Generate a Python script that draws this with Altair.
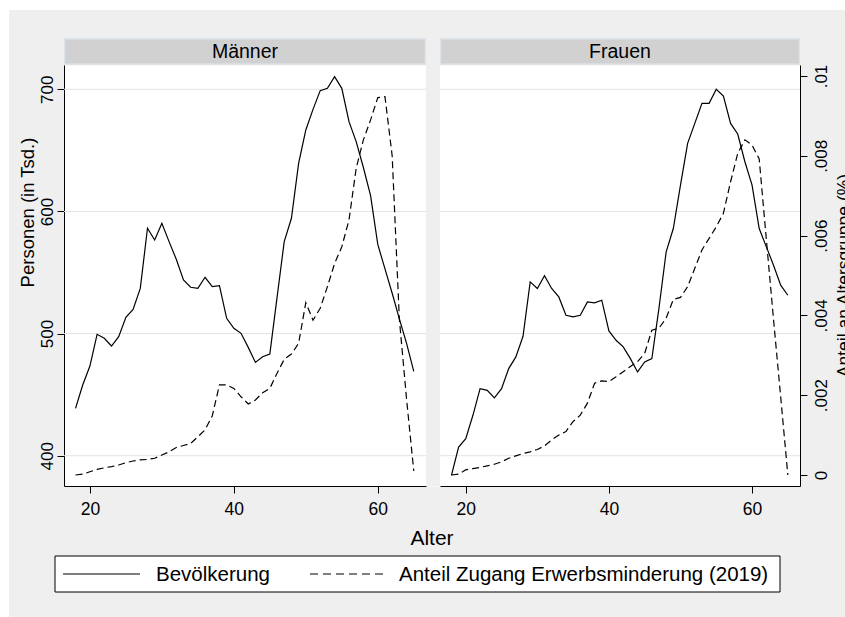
import altair as alt
import pandas as pd

# ---------------- data ----------------
ages = list(range(18, 66))

maenner_bev = [438.8, 457.9, 473.4, 499.4, 496.1, 489.8, 497.5, 513.3, 519.8, 537.0,
               586.2, 576.6, 590.3, 575.3, 560.8, 543.9, 537.9, 537.0, 546.1, 538.4,
               539.2, 512.5, 504.3, 500.2, 488.7, 476.4, 481.1, 483.3, 529.4, 575.3,
               594.4, 639.4, 666.7, 683.6, 698.9, 700.8, 710.4, 700.8, 673.5, 657.2,
               636.0, 613.0, 573.0, 553.0, 533.0, 512.0, 492.0, 469.0]

maenner_anteil = [0.0, 0.00002, 0.00008, 0.00014, 0.00018, 0.00021, 0.00025, 0.00031,
                  0.00035, 0.00038, 0.00039, 0.00042, 0.00050, 0.00058, 0.00069, 0.00074,
                  0.00079, 0.00096, 0.00113, 0.00148, 0.00226, 0.00226, 0.00217, 0.00196,
                  0.00178, 0.00188, 0.00206, 0.00217, 0.00255, 0.00290, 0.00303, 0.00330,
                  0.00432, 0.00388, 0.00418, 0.00472, 0.00530, 0.00572, 0.00639, 0.00769,
                  0.00840, 0.00890, 0.00946, 0.00948, 0.00800, 0.00390, 0.00190, 0.00010]

frauen_bev = [383.9, 407.1, 413.9, 433.1, 454.9, 453.5, 447.3, 454.9, 471.3, 480.9,
              497.8, 542.3, 536.9, 547.3, 536.9, 530.0, 515.0, 513.7, 515.0, 525.9,
              525.1, 527.3, 502.2, 494.5, 489.1, 479.5, 468.6, 476.8, 479.5, 521.0,
              566.9, 586.0, 621.6, 655.7, 672.1, 688.5, 688.5, 700.0, 694.5, 672.1,
              663.4, 640.7, 621.6, 586.0, 571.0, 556.0, 539.6, 531.4]

frauen_anteil = [0.0, 0.00002, 0.00013, 0.00016, 0.00019, 0.00023, 0.00027, 0.00033,
                 0.00042, 0.00048, 0.00054, 0.00058, 0.00064, 0.00073, 0.00088, 0.00100,
                 0.00109, 0.00134, 0.00150, 0.00180, 0.00230, 0.00236, 0.00234, 0.00246,
                 0.00259, 0.00272, 0.00284, 0.00305, 0.00363, 0.00368, 0.00393, 0.00440,
                 0.00445, 0.00472, 0.00518, 0.00564, 0.00593, 0.00622, 0.00656, 0.00735,
                 0.00806, 0.00840, 0.00827, 0.00792, 0.00590, 0.00390, 0.00196, 0.0]

panel_labels = ["Männer", "Frauen"]
legend_labels = ["Bevölkerung", "Anteil Zugang Erwerbsminderung (2019)"]
x_title = "Alter"
y_left_title = "Personen (in Tsd.)"
y_right_title = "Anteil an Altersgruppe (%)"
x_ticks = [20, 40, 60]
y_left_ticks = [400, 500, 600, 700]
y_right_ticks = [0, 0.002, 0.004, 0.006, 0.008, 0.01]

# ---------------- layout ----------------
W, H = 736, 421
PANEL_L = [0, 362]
PANEL_R = [376, 736]
X_DOMAIN = [16.4, 66.7]
YL_DOMAIN = [375.2, 719.9]
YR_DOMAIN = [-0.000276, 0.010276]
FONT = "Liberation Sans"
BG = "#efefef"
HEADER_FILL = "#d1d1d1"
HEADER_STROKE = "#dae1e8"
GRID = "#e4e4e4"
DASH = [7, 4]

dfM = pd.DataFrame({"Alter": ages, "bev": maenner_bev, "anteil": maenner_anteil})
dfF = pd.DataFrame({"Alter": ages, "bev": frauen_bev, "anteil": frauen_anteil})
grid_df = pd.DataFrame({"v": y_left_ticks})


def one(text=""):
    return pd.DataFrame({"t": [text]})


def xscale(panel):
    return alt.Scale(domain=X_DOMAIN, range=panel, nice=False, zero=False)


def yl():
    return alt.Scale(domain=YL_DOMAIN, nice=False, zero=False)


def yr():
    return alt.Scale(domain=YR_DOMAIN, nice=False, zero=False)


common = dict(domainColor="black", tickColor="black", labelColor="black",
              titleColor="black", labelFont=FONT, titleFont=FONT, grid=False,
              tickSize=7, domainWidth=1, tickWidth=1)

x_axis = alt.Axis(values=x_ticks, orient="bottom", labelFontSize=17.5,
                  labelPadding=7, labelAngle=0, **common)

y_axis_left = alt.Axis(values=y_left_ticks, orient="left", labelAngle=270,
                       labelAlign="center", labelBaseline="alphabetic",
                       labelPadding=5, labelFontSize=17, title=y_left_title,
                       titleAngle=270, titleAlign="center", titleBaseline="alphabetic",
                       titleX=-31, titleY=147, titleFontSize=18.5,
                       titleFontWeight="normal", **common)

y_axis_right = alt.Axis(values=y_right_ticks, orient="right", labelAngle=270,
                        labelAlign="center", labelBaseline="top",
                        labelPadding=6, labelFontSize=17,
                        labelExpr="datum.value == 0 ? '0' : replace(format(datum.value, '.3~f'), '0.', '.')",
                        title=y_right_title, titleAngle=270, titleAlign="center",
                        titleBaseline="alphabetic", titleX=49.5, titleY=210,
                        titleFontSize=17.5, titleFontWeight="normal", **common)

layers = []

# grey gap between panels
layers.append(alt.Chart(one()).mark_rect(fill=BG).encode(
    x=alt.value(PANEL_L[1]), x2=alt.value(PANEL_R[0]), y=alt.value(0), y2=alt.value(H)))

# white border strips (top / left) of the outer region
layers.append(alt.Chart(one()).mark_rect(fill="white").encode(
    x=alt.value(-64), x2=alt.value(W + 45), y=alt.value(-65), y2=alt.value(-55)))
layers.append(alt.Chart(one()).mark_rect(fill="white").encode(
    x=alt.value(-64), x2=alt.value(-55), y=alt.value(-65), y2=alt.value(H + 131)))

# gridlines per panel
for panel in (PANEL_L, PANEL_R):
    layers.append(alt.Chart(grid_df).mark_rule(color=GRID, strokeWidth=1).encode(
        y=alt.Y("v:Q", scale=yl(), axis=None),
        x=alt.value(panel[0]), x2=alt.value(panel[1])))

# headers
for panel, label in zip((PANEL_L, PANEL_R), panel_labels):
    layers.append(alt.Chart(one()).mark_rect(fill=HEADER_FILL, stroke=HEADER_STROKE,
                                             strokeWidth=1.5).encode(
        x=alt.value(panel[0] + 0.75), x2=alt.value(panel[1] - 0.75),
        y=alt.value(-26), y2=alt.value(-1)))
    layers.append(alt.Chart(one(label)).mark_text(font=FONT, fontSize=19.5, color="black",
                                                  align="center", baseline="middle").encode(
        text="t:N", x=alt.value((panel[0] + panel[1]) / 2), y=alt.value(-13)))

# data lines
m_bev = alt.Chart(dfM).mark_line(color="black", strokeWidth=1.2).encode(
    x=alt.X("Alter:Q", scale=xscale(PANEL_L), axis=x_axis, title=None),
    y=alt.Y("bev:Q", scale=yl(), axis=y_axis_left))
m_ant = alt.Chart(dfM).mark_line(color="black", strokeWidth=1.2, strokeDash=DASH).encode(
    x=alt.X("Alter:Q", scale=xscale(PANEL_L), axis=None),
    y=alt.Y("anteil:Q", scale=yr(), axis=y_axis_right))
f_bev = alt.Chart(dfF).mark_line(color="black", strokeWidth=1.2).encode(
    x=alt.X("Alter:Q", scale=xscale(PANEL_R), axis=x_axis, title=None),
    y=alt.Y("bev:Q", scale=yl(), axis=None))
f_ant = alt.Chart(dfF).mark_line(color="black", strokeWidth=1.2, strokeDash=DASH).encode(
    x=alt.X("Alter:Q", scale=xscale(PANEL_R), axis=None),
    y=alt.Y("anteil:Q", scale=yr(), axis=None))
layers += [m_bev, m_ant, f_bev, f_ant]

# x title
layers.append(alt.Chart(one(x_title)).mark_text(font=FONT, fontSize=21, color="black",
                                                align="center", baseline="alphabetic").encode(
    text="t:N", x=alt.value(368), y=alt.value(480)))

# legend
layers.append(alt.Chart(one()).mark_rect(fill="white", stroke="black", strokeWidth=1).encode(
    x=alt.value(-9), x2=alt.value(716), y=alt.value(491), y2=alt.value(527)))
layers.append(alt.Chart(one()).mark_rule(color="black", strokeWidth=1.2).encode(
    x=alt.value(-1), x2=alt.value(76), y=alt.value(509)))
layers.append(alt.Chart(one()).mark_rule(color="black", strokeWidth=1.2,
                                         strokeDash=[8, 5]).encode(
    x=alt.value(246), x2=alt.value(319), y=alt.value(509)))
layers.append(alt.Chart(one(legend_labels[0])).mark_text(font=FONT, fontSize=20.5, color="black",
                                                         align="left", baseline="middle").encode(
    text="t:N", x=alt.value(92), y=alt.value(510)))
layers.append(alt.Chart(one(legend_labels[1])).mark_text(font=FONT, fontSize=20.5, color="black",
                                                         align="left", baseline="middle").encode(
    text="t:N", x=alt.value(335), y=alt.value(510)))

chart = alt.layer(*layers).resolve_scale(x="independent", y="independent").properties(
    width=W, height=H,
    padding={"left": 64, "top": 65, "right": 45, "bottom": 131},
    autosize=alt.AutoSizeParams(type="none"),
    background=BG,
).configure_view(fill="white", stroke="transparent")

chart.save("out.html", embed_options={"renderer": "svg", "actions": False})
